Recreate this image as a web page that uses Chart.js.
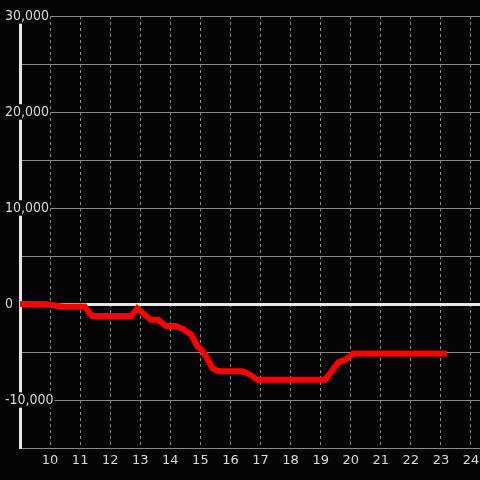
<!DOCTYPE html>
<html>
<head>
<meta charset="utf-8">
<script src="https://cdn.jsdelivr.net/npm/chart.js@4"></script>
<style>
    html, body { margin: 0; padding: 0; background: #050407; }
    canvas { display: block; }
</style>
</head>
<body>
<canvas id="chart" width="480" height="480"></canvas>
<script>
// hours of the day and the running value at each of them
const hours = [8.9, 9.8, 10.4, 11.15, 11.4, 12.7, 12.9, 13.35, 13.6, 13.85, 14.2, 14.45, 14.7, 14.9, 15.05,
    15.2, 15.4, 15.6, 16.4, 16.65, 16.9, 19.15, 19.6, 19.85, 20.1, 23.2];
const values = [0, 0, -250, -250, -1250, -1250, -450, -1650, -1650, -2300, -2300, -2650, -3200, -4400, -4800,
    -5500, -6700, -7000, -7000, -7350, -7900, -7900, -6050, -5750, -5150, -5150];
const xTicks = [10, 11, 12, 13, 14, 15, 16, 17, 18, 19, 20, 21, 22, 23, 24];
const yLabelled = [-10000, 0, 10000, 20000, 30000];

const BG = "#050407";
const GRID = "#888b84";
const TEXT = "#d9d9d9";

const points = hours.map((h, i) => ({ x: h, y: values[i] }));

const background = {
    id: "background",
    beforeDraw: (chart) => {
        const c = chart.ctx;
        c.save();
        c.fillStyle = BG;
        c.fillRect(0, 0, chart.width, chart.height);
        c.restore();
    },
};

const config = {
    type: "line",
    data: {
        datasets: [
            {
                data: points,
                borderColor: "#ff0000",
                borderWidth: 6,
                pointRadius: 0,
                tension: 0,
                fill: false,
            },
        ],
    },
    options: {
        responsive: false,
        animation: false,
        layout: { padding: { top: 16, right: 0, left: 0, bottom: 0 } },
        plugins: { legend: { display: false }, tooltip: { enabled: false } },
        scales: {
            x: {
                type: "linear",
                min: 9,
                max: 24.3,
                afterBuildTicks: (axis) => {
                    axis.ticks = xTicks.map((v) => ({ value: v }));
                },
                afterFit: (axis) => {
                    axis.height = 32;
                    axis.paddingLeft = 0;
                    axis.paddingRight = 0;
                },
                grid: {
                    color: GRID,
                    lineWidth: 1,
                    drawTicks: false,
                },
                // v4: border.dash dashes the grid lines
                border: { display: false, dash: [3, 3] },
                ticks: {
                    color: TEXT,
                    padding: 5,
                    font: { family: "DejaVu Sans", size: 13 },
                    maxRotation: 0,
                    autoSkip: false,
                },
            },
            y: {
                min: -15000,
                max: 30000,
                afterFit: (axis) => {
                    axis.width = 20;
                },
                grid: {
                    color: (ctx) => (ctx.tick && ctx.tick.value === 0 ? "#e8e8e8" : GRID),
                    lineWidth: (ctx) => (ctx.tick && ctx.tick.value === 0 ? 3 : 1),
                    drawTicks: false,
                },
                border: { display: true, color: "#e8e8e8", width: 3 },
                ticks: {
                    stepSize: 5000,
                    mirror: true,
                    padding: -15,
                    color: TEXT,
                    font: { family: "'Liberation Sans Narrow', 'DejaVu Sans Condensed', sans-serif", size: 14, lineHeight: 1.1 },
                    callback: (v) => (yLabelled.includes(v) ? v.toLocaleString("en-US") : ""),
                    showLabelBackdrop: (ctx) => yLabelled.includes(ctx.tick.value),
                    backdropColor: BG,
                    backdropPadding: { top: 0, bottom: 0, left: 1, right: 1 },
                },
            },
        },
    },
    plugins: [background],
};

new Chart(document.getElementById("chart"), config);
</script>
</body>
</html>
